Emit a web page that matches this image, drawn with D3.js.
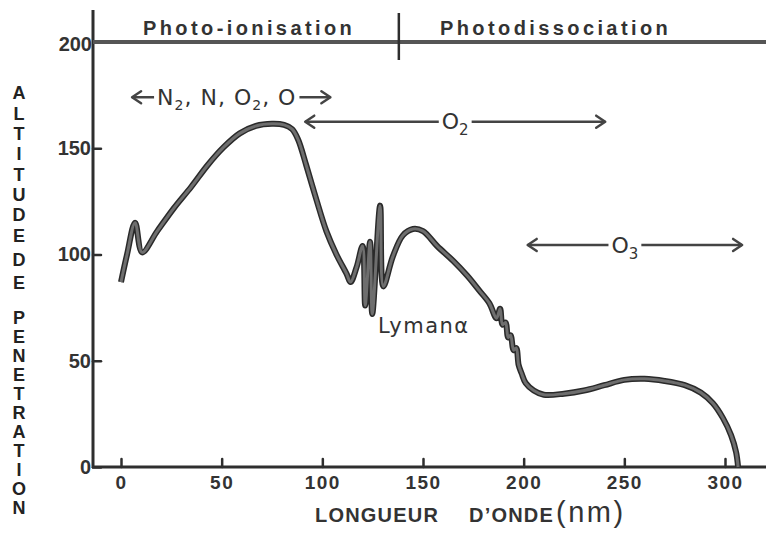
<!DOCTYPE html>
<html>
<head>
<meta charset="utf-8">
<script src="https://cdn.jsdelivr.net/npm/d3@7"></script>
<style>
  body { margin: 0; background: #fff; }
  svg { display: block; }
</style>
</head>
<body>
<div id="chart"></div>
<script>
// penetration altitude (km) vs wavelength (nm)
const wavelength = [0, 3, 7, 10.5, 18, 26, 35, 43, 51, 59, 67, 75, 81, 85, 88, 92, 97, 102, 107, 112, 114,
  117, 120, 121.3, 123.7, 124.8, 128.7, 130.3, 135, 140, 145, 150, 157, 165, 172, 178, 183, 186.5, 188.3,
  189.5, 191, 192.3, 193.5, 195, 196.3, 197.5, 199, 201, 205, 210, 220, 230, 240, 250, 260, 270, 280,
  288, 294, 299, 303, 305.5, 306.5]
const altitude = [87, 100, 115, 101, 111, 121.5, 132, 142, 150.5, 157, 160.5, 161.5, 161, 159, 154, 142,
  126, 111, 100, 91, 87, 94, 104, 76, 106, 72, 123, 85, 99, 109, 112, 111, 104, 97, 90, 83, 77, 70, 74.5,
  67, 68, 61, 62, 55, 56, 48, 44, 39.5, 36, 34, 34.5, 36, 38.5, 41, 41.5, 40.5, 38.5, 35, 30, 23, 15, 7, 0]

const xTicks = [0, 50, 100, 150, 200, 250, 300]
const yTicks = [0, 50, 100, 150, 200]

const regionLabels = ['Photo-ionisation', 'Photodissociation']
const regionBoundary = 138

// absorber ranges (nm) drawn as double arrows
const absorbers = ['N₂, N, O₂, O', 'O₂', 'O₃']
const absorberFrom = [5.5, 91.5, 202]
const absorberTo = [104, 240.5, 308.5]
const absorberAlt = [174, 162.5, 104.5]

const w = 766, h = 543

const svg = d3.select('#chart').append('svg')
  .attr('width', w).attr('height', h)
  .style('font-family', '"Liberation Sans", Arial, sans-serif')

const x = d3.scaleLinear().domain([0, 300]).range([121, 725])
const y = d3.scaleLinear().domain([0, 200]).range([467, 42])

const ink = '#2e2e2e'
const x0 = x.invert(93)

// axes frame
svg.append('line')
  .attr('x1', x(x0)).attr('x2', x(x0)).attr('y1', 10).attr('y2', y(0) + 1)
  .attr('stroke', ink).attr('stroke-width', 3)
svg.append('line')
  .attr('x1', x(x0) - 1).attr('x2', w).attr('y1', y(0)).attr('y2', y(0))
  .attr('stroke', ink).attr('stroke-width', 3)
svg.append('line')
  .attr('x1', x(x0)).attr('x2', w).attr('y1', y(200)).attr('y2', y(200))
  .attr('stroke', '#555').attr('stroke-width', 4)
svg.append('line')
  .attr('x1', x(regionBoundary)).attr('x2', x(regionBoundary)).attr('y1', 13).attr('y2', 60)
  .attr('stroke', ink).attr('stroke-width', 2.5)

const xAxis = d3.axisBottom(x).tickValues(xTicks).tickSizeInner(-8).tickSizeOuter(0).tickPadding(9)
const gx = svg.append('g').attr('transform', `translate(0, ${y(0)})`).call(xAxis)
gx.select('.domain').remove()
gx.selectAll('line').attr('stroke', ink).attr('stroke-width', 2.5).attr('stroke-linecap', 'round')
gx.selectAll('text')
  .attr('fill', '#333').style('font-size', '19px').style('font-weight', 'bold')
  .style('letter-spacing', '1.5px')

const yAxis = d3.axisLeft(y).tickValues(yTicks.filter(d => d < 200)).tickSizeInner(-8).tickSizeOuter(0).tickPadding(2)
const gy = svg.append('g').attr('transform', `translate(${x(x0)}, 0)`).call(yAxis)
gy.select('.domain').remove()
gy.selectAll('line').attr('stroke', ink).attr('stroke-width', 2.5).attr('stroke-linecap', 'round')
gy.selectAll('text')
  .attr('fill', '#333').style('font-size', '20px').style('font-weight', 'bold')

svg.append('text')
  .attr('x', x(x0) - 1).attr('y', y(200)).attr('dy', '0.45em')
  .attr('text-anchor', 'end')
  .attr('fill', '#333').style('font-size', '20px').style('font-weight', 'bold')
  .text('200')

// region headers
svg.selectAll('.region')
  .data(regionLabels)
  .enter()
  .append('text')
  .attr('class', 'region')
  .attr('x', (d, i) => i === 0 ? 143 : 440)
  .attr('y', 35)
  .attr('fill', '#333')
  .style('font-size', '20px').style('font-weight', 'bold').style('letter-spacing', '3.4px')
  .text(d => d)

// vertical y title, one letter per row
const yTitle = [['ALTITUDE', 93, 20.3], ['DE', 260, 23], ['PENETRATION', 318, 19]]
yTitle.forEach(([word, start, step]) => {
  word.split('').forEach((c, i) => {
    svg.append('text')
      .attr('x', 19).attr('y', start + i * step).attr('dy', '0.36em')
      .attr('text-anchor', 'middle')
      .attr('fill', '#222')
      .style('font-size', '18px').style('font-weight', 'bold')
      .text(c)
  })
})

// x title
const xt = svg.append('text')
  .attr('x', 315).attr('y', 522)
  .attr('fill', '#333').style('font-weight', 'bold')
xt.append('tspan').style('font-size', '20px').style('letter-spacing', '1.2px').text('LONGUEUR')
xt.append('tspan').attr('dx', 30).style('font-size', '20px').style('letter-spacing', '1.2px').text('D’ONDE')
xt.append('tspan').attr('dx', 2).style('font-size', '29px').style('font-weight', 'normal')
  .style('letter-spacing', '2.5px').text('(nm)')

// curve
const pts = wavelength.map((d, i) => [d, altitude[i]])
const line = d3.line()
  .x(d => x(d[0]))
  .y(d => y(d[1]))
  .curve(d3.curveCatmullRom.alpha(0.5))

svg.append('path')
  .datum(pts)
  .attr('d', line)
  .attr('fill', 'none')
  .attr('stroke', '#2a2a2a')
  .attr('stroke-width', 6)
  .attr('stroke-linejoin', 'round')
svg.append('path')
  .datum(pts)
  .attr('d', line)
  .attr('fill', 'none')
  .attr('stroke', '#6e6e6e')
  .attr('stroke-width', 3)
  .attr('stroke-linejoin', 'round')

// absorber arrows
function arrowHead(px, py, dir) {
  svg.append('path')
    .attr('d', `M${px - dir * 9},${py - 6} L${px},${py} L${px - dir * 9},${py + 6}`)
    .attr('fill', 'none').attr('stroke', '#444').attr('stroke-width', 2.5)
    .attr('stroke-linecap', 'round').attr('stroke-linejoin', 'round')
}

absorbers.forEach((name, i) => {
  const a = x(absorberFrom[i]), b = x(absorberTo[i]), yy = y(absorberAlt[i])
  const t = svg.append('text')
    .attr('y', yy).attr('dy', '0.35em')
    .attr('fill', '#333').style('font-size', '22px')
    .style('font-family', '"DejaVu Sans", sans-serif')
  if (i === 0) {
    t.attr('x', a + 25).style('letter-spacing', '1px')
    t.append('tspan').text('N')
    t.append('tspan').attr('dy', 5).style('font-size', '14px').text('2')
    t.append('tspan').attr('dy', -5).text(', N, O')
    t.append('tspan').attr('dy', 5).style('font-size', '14px').text('2')
    t.append('tspan').attr('dy', -5).text(', O')
  } else {
    t.attr('x', (a + b) / 2 + (i === 1 ? 0 : -10)).attr('text-anchor', 'middle')
    t.append('tspan').text('O')
    t.append('tspan').attr('dy', 6).style('font-size', '15px').text(i === 1 ? '2' : '3')
  }
  const tw = t.node().getBBox()
  const gap = 3
  svg.append('line')
    .attr('x1', a).attr('x2', tw.x - gap).attr('y1', yy).attr('y2', yy)
    .attr('stroke', '#444').attr('stroke-width', 2.5)
  svg.append('line')
    .attr('x1', tw.x + tw.width + gap).attr('x2', b).attr('y1', yy).attr('y2', yy)
    .attr('stroke', '#444').attr('stroke-width', 2.5)
  arrowHead(a, yy, -1)
  arrowHead(b, yy, 1)
})

// Lyman alpha note
svg.append('text')
  .attr('x', 378).attr('y', 333)
  .attr('fill', '#333')
  .style('font-size', '21px')
  .style('letter-spacing', '1.5px')
  .style('font-family', '"DejaVu Sans", sans-serif')
  .text('Lymanα')
</script>
</body>
</html>
